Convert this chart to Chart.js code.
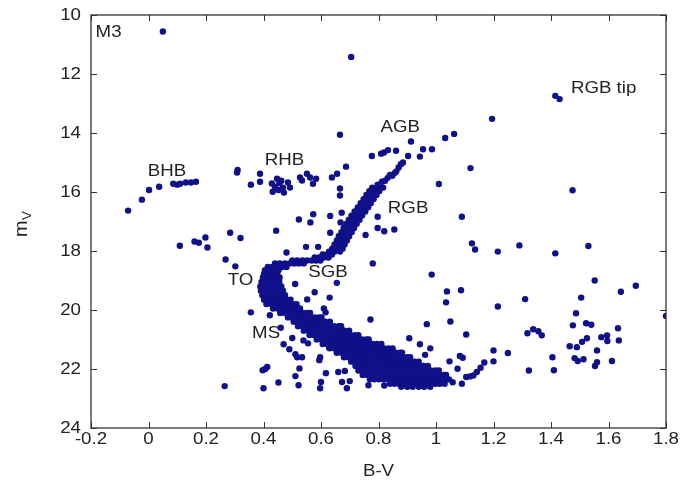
<!DOCTYPE html>
<html lang="en">
<head>
<meta charset="UTF-8" />
<title>M3 colour-magnitude diagram</title>
<style>
    body { margin: 0; padding: 0; background: #fff; }
    canvas { display: block; }
</style>
<script src="https://cdn.jsdelivr.net/npm/chart.js"></script>
</head>
<body>
<canvas id="cmd" width="685" height="489"></canvas>
<script>
// axis ticks
const bvTicks = [-0.2, 0, 0.2, 0.4, 0.6, 0.8, 1, 1.2, 1.4, 1.6, 1.8];
const magTicks = [10, 12, 14, 16, 18, 20, 22, 24];

// labels written on the diagram (centre of text, in data units)
const labelText = ['M3', 'BHB', 'RHB', 'AGB', 'RGB', 'RGB tip', 'TO', 'SGB', 'MS'];
const labelBV = [-0.139, 0.064, 0.473, 0.876, 0.903, 1.583, 0.32, 0.624, 0.409];
const labelMV = [10.6, 15.31, 14.94, 13.82, 16.56, 12.5, 19.0, 18.72, 20.79];

// blue horizontal branch  [B-V, mV]
const bhb = [
    [-0.071, 16.63], [-0.023, 16.26], [0.002, 15.93], [0.037, 15.82], [0.086, 15.72],
    [0.1, 15.75], [0.11, 15.72], [0.13, 15.68], [0.148, 15.68], [0.165, 15.65]
];

// red horizontal branch
const rhb = [
    [0.308, 15.34], [0.31, 15.25], [0.356, 15.75], [0.388, 15.38], [0.388, 15.65],
    [0.429, 15.71], [0.432, 15.99], [0.447, 15.55], [0.455, 15.7], [0.462, 15.62],
    [0.468, 15.85], [0.471, 16.02], [0.485, 15.68], [0.492, 15.85], [0.44, 15.82],
    [0.452, 15.93], [0.527, 15.51], [0.534, 15.61], [0.551, 15.38], [0.562, 15.51],
    [0.572, 15.72], [0.583, 15.55], [0.638, 15.51], [0.656, 15.38], [0.666, 15.88],
    [0.666, 16.12], [0.687, 15.14]
];

// asymptotic giant branch + upper red giant branch
const agb = [
    [0.777, 14.78], [0.809, 14.7], [0.819, 14.66], [0.833, 14.58], [0.861, 14.6],
    [0.913, 14.29], [0.955, 14.55], [0.986, 14.55], [0.903, 14.78], [0.944, 14.8],
    [0.885, 15.0], [0.878, 15.06], [0.87, 15.17], [0.862, 15.3], [0.856, 15.36],
    [0.848, 15.45], [0.832, 15.52], [0.823, 15.62], [0.84, 15.42], [0.812, 15.65],
    [0.797, 15.75]
];

// red giant branch rows  [mV, [B-V ...]]
const rgbRows = [
    [15.85, [0.778, 0.797, 0.816]],
    [15.97, [0.768, 0.786, 0.803]],
    [16.1, [0.758, 0.776, 0.793]],
    [16.24, [0.748, 0.767, 0.783]],
    [16.38, [0.738, 0.756, 0.773]],
    [16.52, [0.728, 0.746, 0.764]],
    [16.66, [0.717, 0.735, 0.754]],
    [16.8, [0.706, 0.724, 0.743]],
    [16.94, [0.697, 0.715, 0.734]],
    [17.08, [0.688, 0.706, 0.724]],
    [17.22, [0.679, 0.697, 0.715]],
    [17.36, [0.671, 0.688, 0.707]],
    [17.5, [0.662, 0.68, 0.698]],
    [17.64, [0.655, 0.672, 0.69]],
    [17.78, [0.647, 0.665, 0.682]],
    [17.92, [0.639, 0.657, 0.675]],
    [18.02, [0.628, 0.647, 0.666]]
];

// sub-giant branch rows
const sgbRows = [
    [18.12, [0.606, 0.622, 0.638]],
    [18.22, [0.578, 0.594, 0.61, 0.626]],
    [18.32, [0.5, 0.517, 0.535, 0.551, 0.568, 0.583, 0.598]],
    [18.42, [0.44, 0.456, 0.474, 0.49, 0.506, 0.523, 0.54]],
    [18.54, [0.415, 0.43, 0.447, 0.464, 0.48]],
    [18.65, [0.405, 0.42, 0.437, 0.452]]
];

// turn-off and main sequence rows
const msRows = [
    [18.77, [0.402, 0.418, 0.433, 0.448]],
    [18.9, [0.398, 0.412, 0.429, 0.444, 0.456]],
    [19.05, [0.393, 0.409, 0.424, 0.44, 0.455]],
    [19.2, [0.389, 0.404, 0.42, 0.434, 0.45, 0.462]],
    [19.35, [0.391, 0.407, 0.423, 0.438, 0.455, 0.468]],
    [19.5, [0.396, 0.412, 0.428, 0.443, 0.459, 0.475]],
    [19.65, [0.402, 0.418, 0.433, 0.449, 0.465, 0.481, 0.494]],
    [19.8, [0.41, 0.426, 0.441, 0.457, 0.473, 0.488, 0.503, 0.515]],
    [19.95, [0.433, 0.449, 0.464, 0.48, 0.496, 0.511, 0.527]],
    [20.1, [0.458, 0.474, 0.49, 0.505, 0.521, 0.537, 0.552, 0.562]],
    [20.25, [0.485, 0.5, 0.516, 0.531, 0.547, 0.563, 0.578, 0.594, 0.602]],
    [20.4, [0.505, 0.521, 0.536, 0.552, 0.568, 0.584, 0.6, 0.615, 0.631]],
    [20.55, [0.52, 0.536, 0.552, 0.567, 0.583, 0.599, 0.615, 0.63, 0.646, 0.662, 0.67]],
    [20.7, [0.54, 0.556, 0.571, 0.587, 0.603, 0.619, 0.634, 0.65, 0.666, 0.682, 0.698]],
    [20.85, [0.56, 0.576, 0.592, 0.607, 0.623, 0.639, 0.655, 0.67, 0.686, 0.702, 0.718, 0.73]],
    [21.0, [0.585, 0.601, 0.617, 0.632, 0.648, 0.664, 0.68, 0.695, 0.711, 0.727, 0.743, 0.758, 0.766]],
    [21.15, [0.606, 0.622, 0.637, 0.653, 0.669, 0.685, 0.7, 0.716, 0.732, 0.748, 0.763, 0.779, 0.795, 0.81]],
    [21.3, [0.63, 0.646, 0.661, 0.677, 0.693, 0.709, 0.724, 0.74, 0.756, 0.772, 0.787, 0.803, 0.819, 0.835, 0.849]],
    [21.45, [0.655, 0.671, 0.686, 0.702, 0.718, 0.734, 0.749, 0.765, 0.781, 0.797, 0.812, 0.828, 0.844, 0.86, 0.875, 0.882]],
    [21.6, [0.68, 0.696, 0.711, 0.727, 0.743, 0.759, 0.774, 0.79, 0.806, 0.822, 0.837, 0.853, 0.869, 0.885, 0.9, 0.91]],
    [21.75, [0.705, 0.721, 0.736, 0.752, 0.768, 0.784, 0.799, 0.815, 0.831, 0.847, 0.862, 0.878, 0.894, 0.91, 0.925, 0.94]],
    [21.9, [0.72, 0.736, 0.751, 0.767, 0.783, 0.799, 0.814, 0.83, 0.846, 0.862, 0.877, 0.893, 0.909, 0.925, 0.94, 0.956, 0.972]],
    [22.05, [0.73, 0.746, 0.762, 0.777, 0.793, 0.809, 0.825, 0.84, 0.856, 0.872, 0.888, 0.903, 0.919, 0.935, 0.951, 0.966, 0.982, 0.998, 1.01]],
    [22.2, [0.745, 0.761, 0.776, 0.792, 0.808, 0.824, 0.839, 0.855, 0.871, 0.887, 0.902, 0.918, 0.934, 0.95, 0.965, 0.981, 0.997, 1.013, 1.028, 1.035]],
    [22.35, [0.77, 0.786, 0.801, 0.817, 0.833, 0.849, 0.864, 0.88, 0.896, 0.912, 0.927, 0.943, 0.959, 0.975, 0.99, 1.006, 1.022, 1.038, 1.045]],
    [22.5, [0.84, 0.856, 0.872, 0.887, 0.903, 0.919, 0.935, 0.95, 0.966, 0.982, 0.998, 1.013, 1.03]],
    [22.6, [0.879, 0.9, 0.919, 0.94, 0.959, 0.98]]
];

// scattered stars and field stars
const field = [
    [0.05, 10.56], [0.705, 11.42], [1.415, 12.74], [1.43, 12.85], [1.195, 13.52],
    [0.666, 14.06], [1.032, 14.17], [1.063, 14.03], [1.12, 15.19], [1.475, 15.94],
    [1.01, 15.73], [1.09, 16.84], [0.573, 16.75], [0.563, 17.03], [0.523, 16.93],
    [0.632, 16.81], [0.632, 17.38], [0.672, 16.7], [0.668, 17.03], [0.444, 17.31],
    [0.548, 17.86], [0.59, 17.86], [0.48, 18.05], [0.797, 16.84], [0.797, 17.22],
    [0.82, 17.33], [0.855, 17.27], [0.755, 17.46], [0.109, 17.82], [0.16, 17.68],
    [0.175, 17.72], [0.198, 17.54], [0.205, 17.88], [0.284, 17.38], [0.32, 17.56],
    [0.268, 18.29], [0.302, 18.52], [0.78, 18.42], [0.655, 19.08], [0.985, 18.8],
    [0.51, 19.12], [0.578, 19.4], [0.552, 19.64], [0.63, 19.58], [0.61, 19.95],
    [0.616, 20.08], [0.356, 20.08], [0.422, 20.18], [0.772, 20.32], [1.038, 19.37],
    [1.087, 19.33], [1.035, 19.74], [1.05, 20.39], [1.105, 20.83], [0.968, 20.48],
    [1.125, 17.74], [1.136, 17.95], [1.215, 18.02], [1.29, 17.81], [1.415, 18.08],
    [1.53, 17.83], [1.552, 19.0], [1.695, 19.18], [1.643, 19.38], [1.505, 19.58],
    [1.31, 19.63], [1.215, 19.88], [1.8, 20.2], [1.487, 20.11], [1.476, 20.52],
    [1.522, 20.45], [1.54, 20.5], [1.318, 20.79], [1.338, 20.65], [1.356, 20.72],
    [1.368, 20.86], [1.465, 21.23], [1.49, 21.26], [1.508, 21.08], [1.525, 20.96],
    [1.575, 20.92], [1.595, 20.86], [1.596, 21.05], [1.633, 20.62], [1.636, 21.03],
    [1.56, 21.37], [1.482, 21.63], [1.493, 21.73], [1.513, 21.67], [1.553, 21.9],
    [1.56, 21.77], [1.612, 21.73], [1.405, 21.6], [1.41, 22.04], [1.323, 22.05],
    [1.25, 21.46], [1.2, 21.37], [1.2, 21.74], [1.168, 21.78], [1.155, 21.96],
    [1.142, 22.1], [1.13, 22.22], [1.118, 22.25], [1.105, 22.27], [1.09, 22.5],
    [1.093, 21.62], [1.083, 21.56], [1.075, 21.99], [1.047, 21.74], [1.058, 22.45],
    [0.907, 20.96], [0.944, 21.16], [0.98, 21.3], [0.962, 21.52], [0.47, 21.16],
    [0.49, 21.33], [0.539, 21.03], [0.555, 21.13], [0.511, 21.5], [0.517, 21.6],
    [0.534, 21.6], [0.597, 21.6], [0.594, 21.7], [0.4, 22.65], [0.406, 22.0],
    [0.413, 21.93], [0.397, 22.04], [0.452, 22.46], [0.522, 22.55], [0.511, 22.24],
    [0.525, 21.98], [0.6, 22.44], [0.597, 22.65], [0.617, 22.14], [0.66, 22.1],
    [0.683, 22.07], [0.673, 22.44], [0.69, 22.65], [0.7, 22.41], [0.265, 22.58],
    [0.765, 22.55], [0.82, 22.56], [0.628, 21.26], [0.46, 20.6], [0.5, 20.95]
];

const fromPairs = list => list.map(([b, m]) => ({ x: b, y: m }));
const fromRows = rows => rows.flatMap(([m, bvs]) => bvs.map(b => ({ x: b, y: m })));

const starColor = '#10108a';
const textColor = '#222';
const font = '"Liberation Sans", Arial, sans-serif';
const stretch = 1.1; // the lettering of the original is slightly wide

const groups = [fromPairs(field), fromPairs(bhb), fromPairs(rhb), fromPairs(agb),
                fromRows(rgbRows), fromRows(sgbRows), fromRows(msRows)];

function wideText(ctx, text, px, py, align, size) {
    ctx.save();
    ctx.translate(px, py);
    ctx.scale(stretch, 1);
    ctx.font = size + 'px ' + font;
    ctx.textAlign = align;
    ctx.textBaseline = 'middle';
    ctx.fillText(text, 0, 0);
    ctx.restore();
}

// frame, inward tick marks, tick labels, axis titles and region labels
const decorations = {
    id: 'decorations',
    afterDatasetsDraw(chart) {
        const { ctx, chartArea: a, scales: { x, y } } = chart;
        ctx.save();
        ctx.strokeStyle = '#333';
        ctx.lineWidth = 1.3;
        ctx.strokeRect(a.left, a.top, a.right - a.left, a.bottom - a.top);
        ctx.beginPath();
        bvTicks.forEach(v => {
            const px = Math.round(x.getPixelForValue(v)) + 0.5;
            ctx.moveTo(px, a.bottom); ctx.lineTo(px, a.bottom - 6);
            ctx.moveTo(px, a.top); ctx.lineTo(px, a.top + 6);
        });
        magTicks.forEach(v => {
            const py = Math.round(y.getPixelForValue(v)) + 0.5;
            ctx.moveTo(a.left, py); ctx.lineTo(a.left + 6, py);
            ctx.moveTo(a.right, py); ctx.lineTo(a.right - 6, py);
        });
        ctx.lineWidth = 1;
        ctx.stroke();

        ctx.fillStyle = textColor;
        bvTicks.forEach(v => wideText(ctx, String(v), x.getPixelForValue(v), a.bottom + 11, 'center', 17));
        magTicks.forEach(v => wideText(ctx, String(v), a.left - 10, y.getPixelForValue(v), 'right', 17));

        labelText.forEach((t, i) => {
            wideText(ctx, t, x.getPixelForValue(labelBV[i]), y.getPixelForValue(labelMV[i]), 'center', 17);
        });

        // x title
        wideText(ctx, 'B-V', (a.left + a.right) / 2, 471, 'center', 17);

        // y title m_V
        ctx.translate(27, 237);
        ctx.rotate(-Math.PI / 2);
        ctx.scale(stretch, 1);
        ctx.textAlign = 'left';
        ctx.textBaseline = 'alphabetic';
        ctx.font = '18px ' + font;
        ctx.fillText('m', 0, 0);
        const w = ctx.measureText('m').width;
        ctx.font = '12px ' + font;
        ctx.fillText('V', w + 0.5, 4);
        ctx.restore();
    }
};

new Chart(document.getElementById('cmd').getContext('2d'), {
    type: 'scatter',
    data: {
        datasets: groups.map(g => ({
            data: g,
            backgroundColor: starColor,
            borderWidth: 0,
            pointRadius: 3.2,
            pointHoverRadius: 3.2
        }))
    },
    options: {
        responsive: false,
        animation: false,
        events: [],
        layout: { padding: { left: 0, right: 19, top: 15, bottom: 0 } },
        plugins: { legend: { display: false }, tooltip: { enabled: false } },
        scales: {
            x: {
                type: 'linear',
                min: -0.2,
                max: 1.8,
                afterFit: s => { s.height = 61; },
                grid: { display: false, drawTicks: false },
                border: { display: false },
                ticks: { display: false }
            },
            y: {
                type: 'linear',
                reverse: true,
                min: 10,
                max: 24,
                afterFit: s => { s.width = 91; },
                grid: { display: false, drawTicks: false },
                border: { display: false },
                ticks: { display: false }
            }
        }
    },
    plugins: [decorations]
});
</script>
</body>
</html>
